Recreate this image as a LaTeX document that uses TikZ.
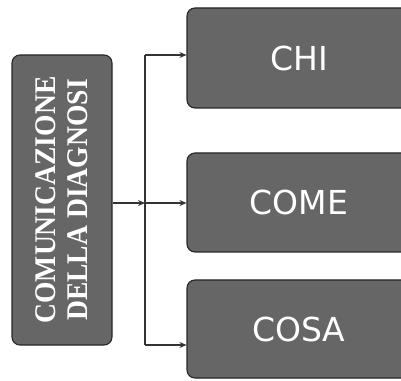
\documentclass[tikz,border=0pt]{standalone}
\usepackage{fontspec}
\newfontfamily\serifL[FakeStretch=0.92]{Liberation Serif}
\newfontfamily\sansD{DejaVu Sans}
\usetikzlibrary{arrows.meta}
\begin{document}
\begin{tikzpicture}[x=1pt,y=1pt,
  box/.style={draw=black!85, line width=1.1pt, fill=black!60, rounded corners=8pt, text=white, inner sep=0pt},
  arr/.style={draw=black!80, line width=1.3pt, -{Stealth[length=7pt,width=6pt]}},
  ln/.style={draw=black!80, line width=1.3pt}]
\useasboundingbox (0,0) rectangle (401,380);
% left box (rotated)
\node[box, rotate=90, minimum width=290pt, minimum height=100pt, align=center,
      font=\serifL\bfseries\fontsize{30}{32}\selectfont] (L) at (62,180) {COMUNICAZIONE\\DELLA DIAGNOSI};
% right boxes
\node[box, minimum width=224pt, minimum height=100pt, font=\sansD\fontsize{33}{36}\selectfont] (chi) at (299,322) {CHI};
\node[box, minimum width=224pt, minimum height=99pt, font=\sansD\fontsize{33}{36}\selectfont] (come) at (299,177.5) {COME};
\node[box, minimum width=224pt, minimum height=98pt, font=\sansD\fontsize{33}{36}\selectfont] (cosa) at (299,51) {COSA};
% trunk
\coordinate (tmid) at (145,177);
\coordinate (ttop) at (145,325);
\coordinate (tbot) at (145,35);
\draw[ln] (ttop) -- (tbot);
\draw[arr] (L.south |- tmid) -- (tmid);
\draw[arr] (ttop) -- (chi.west |- ttop);
\draw[arr] (tmid) -- (come.west |- tmid);
\draw[arr] (tbot) -- (cosa.west |- tbot);
\end{tikzpicture}
\end{document}
